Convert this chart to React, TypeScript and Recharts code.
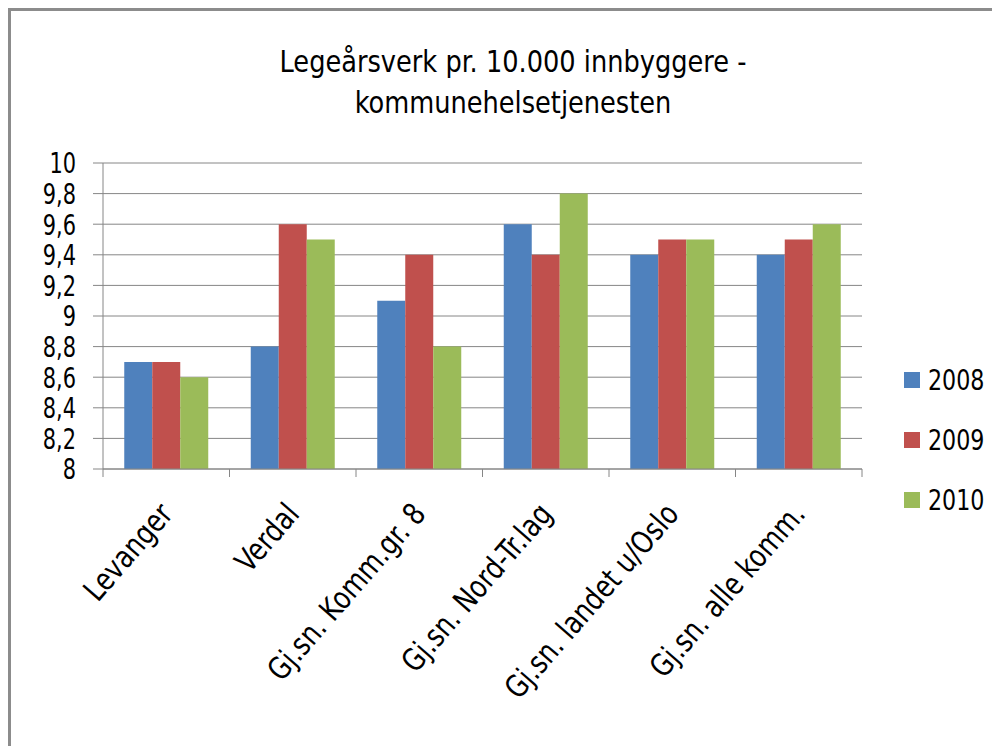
import { BarChart, Bar, XAxis, YAxis, CartesianGrid } from 'recharts';

const categories = [
  'Levanger',
  'Verdal',
  'Gj.sn. Komm.gr. 8',
  'Gj.sn. Nord-Tr.lag',
  'Gj.sn. landet u/Oslo',
  'Gj.sn. alle komm.'
];
const values2008 = [8.7, 8.8, 9.1, 9.6, 9.4, 9.4];
const values2009 = [8.7, 9.6, 9.4, 9.4, 9.5, 9.5];
const values2010 = [8.6, 9.5, 8.8, 9.8, 9.5, 9.6];
const yTicks = [8, 8.2, 8.4, 8.6, 8.8, 9, 9.2, 9.4, 9.6, 9.8, 10];
const seriesNames = ['2008', '2009', '2010'];

const COLORS = ['#4F81BD', '#C0504D', '#9BBB59'];
const GRID = '#868686';
const FONT = '"DejaVu Sans Condensed", "DejaVu Sans", sans-serif';

const CHART_W = 989;
const CHART_H = 735;
const MARGIN = { top: 152, right: 138, left: 0, bottom: 0 };
const Y_W = 92;
const PLOT_H = 306;
const PLOT_W = CHART_W - MARGIN.right - Y_W;

const data = categories.map((name, i) => ({
  name,
  y2008: values2008[i],
  y2009: values2009[i],
  y2010: values2010[i]
}));

function CategoryTick(props: any) {
  const { x, y, payload, index } = props;
  const band = PLOT_W / categories.length;
  const ax = x + 8;
  const ay = y + 46;
  return (
    <g>
      <line x1={x - band / 2} y1={y} x2={x - band / 2} y2={y + 8} stroke={GRID} />
      {index === categories.length - 1 && (
        <line x1={x + band / 2} y1={y} x2={x + band / 2} y2={y + 8} stroke={GRID} />
      )}
      <text
        textAnchor="end"
        transform={`translate(${ax}, ${ay}) rotate(-49) scale(0.9, 1)`}
        fill="#000"
        fontSize={31}
        fontFamily={FONT}
      >
        {payload.value}
      </text>
    </g>
  );
}

function ValueTick(props: any) {
  const { x, y, payload } = props;
  return (
    <text
      textAnchor="end"
      dy="0.36em"
      transform={`translate(${x}, ${y}) scale(0.8, 1)`}
      fill="#000"
      fontSize={29}
      fontFamily={FONT}
    >
      {String(payload.value).replace('.', ',')}
    </text>
  );
}

export default function App() {
  return (
    <div
      style={{
        position: 'relative',
        width: CHART_W,
        height: CHART_H,
        borderLeft: '3px solid #8c8c8c',
        borderTop: '3px solid #8c8c8c',
        background: '#fff'
      }}
    >
      <div
        style={{
          position: 'absolute',
          left: 0,
          top: 30,
          width: 1004,
          textAlign: 'center',
          fontFamily: FONT,
          fontSize: 31,
          lineHeight: '41px',
          color: '#000',
          transform: 'scale(0.92, 1)',
          transformOrigin: '502px 0'
        }}
      >
        Legeårsverk pr. 10.000 innbyggere -<br />
        kommunehelsetjenesten
      </div>
      <div
        style={{
          position: 'absolute',
          left: 893,
          top: 339,
          fontFamily: FONT,
          fontSize: 28,
          color: '#000'
        }}
      >
        {seriesNames.map((s, i) => (
          <div key={s} style={{ height: 60, display: 'flex', alignItems: 'center' }}>
            <span
              style={{ width: 16, height: 16, background: COLORS[i], display: 'inline-block', marginRight: 8 }}
            />
            <span style={{ display: 'inline-block', transform: 'scale(0.88, 1)', transformOrigin: '0 50%' }}>
              {s}
            </span>
          </div>
        ))}
      </div>
      <BarChart
        width={CHART_W}
        height={CHART_H}
        data={data}
        margin={MARGIN}
        barCategoryGap="16.8%"
        barGap={0}
      >
        <CartesianGrid vertical={false} stroke={GRID} />
        <XAxis
          dataKey="name"
          interval={0}
          height={CHART_H - MARGIN.top - PLOT_H}
          tickLine={false}
          tickSize={0}
          tickMargin={0}
          axisLine={{ stroke: GRID }}
          tick={<CategoryTick />}
        />
        <YAxis
          width={Y_W}
          domain={[8, 10]}
          ticks={yTicks}
          interval={0}
          tickSize={10}
          tickMargin={17}
          axisLine={{ stroke: GRID }}
          tickLine={{ stroke: GRID }}
          tick={<ValueTick />}
        />
        <Bar dataKey="y2008" name="2008" fill={COLORS[0]} isAnimationActive={false} />
        <Bar dataKey="y2009" name="2009" fill={COLORS[1]} isAnimationActive={false} />
        <Bar dataKey="y2010" name="2010" fill={COLORS[2]} isAnimationActive={false} />
      </BarChart>
    </div>
  );
}
